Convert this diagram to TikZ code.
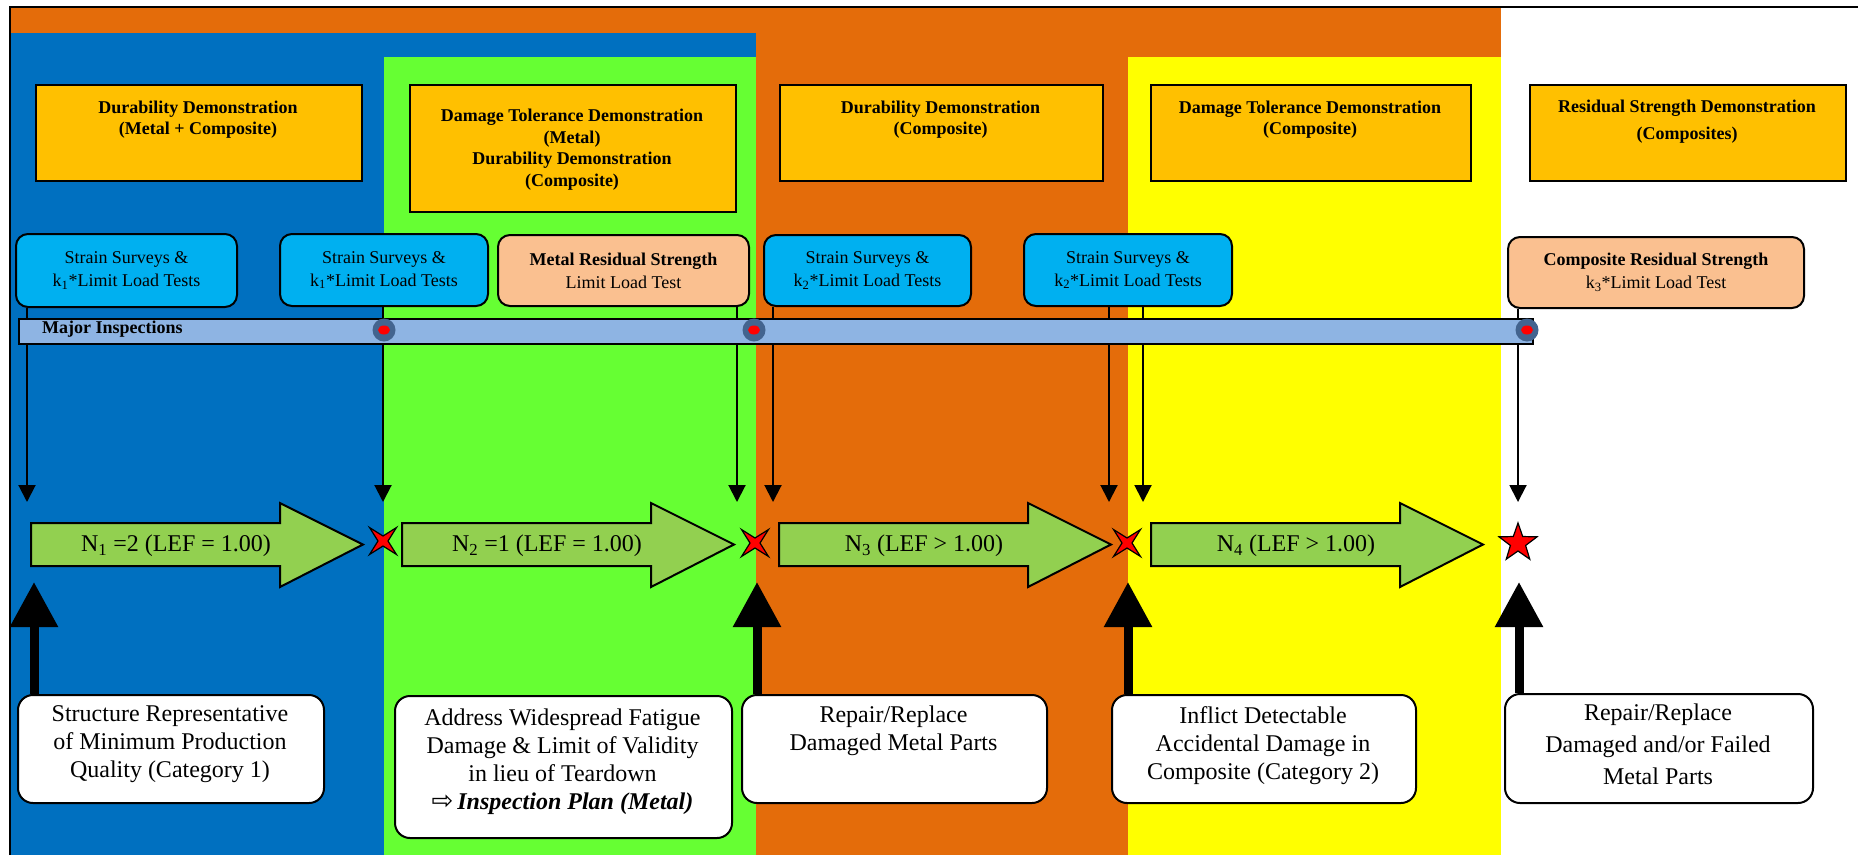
\documentclass[tikz,border=0pt]{standalone}
\usepackage{fontspec}
\setmainfont{Liberation Serif}
\newfontfamily\symfont{DejaVu Sans}
\usetikzlibrary{arrows.meta,shapes.geometric}
\definecolor{regorange}{HTML}{E46C0A}
\definecolor{regblue}{HTML}{0070C0}
\definecolor{reggreen}{HTML}{66FF33}
\definecolor{regyellow}{HTML}{FFFF00}
\definecolor{gold}{HTML}{FFC000}
\definecolor{cyanbox}{HTML}{00B0F0}
\definecolor{peach}{HTML}{FAC090}
\definecolor{barblue}{HTML}{8EB4E3}
\definecolor{dotring}{HTML}{43648F}
\definecolor{arrowgreen}{HTML}{92D050}
\begin{document}
\begin{tikzpicture}[x=1pt,y=-1pt,
  topbox/.style={draw=black, line width=2pt, fill=gold, anchor=north west, inner sep=0pt},
  toptext/.style={anchor=north, align=center, inner sep=0pt, font=\bfseries\fontsize{18}{20.5}\selectfont},
  sbox/.style={draw=black, line width=2pt, rounded corners=12pt, anchor=north west, inner sep=0pt, align=center, font=\fontsize{18}{23}\selectfont},
  bluebox/.style={sbox, fill=cyanbox},
  peachbox/.style={sbox, fill=peach},
  barstyle/.style={draw=black, line width=2pt, fill=barblue, anchor=north west, inner sep=0pt},
  ring/.style={circle, fill=dotring, minimum size=23pt, inner sep=0pt},
  reddot/.style={ellipse, fill=red, minimum width=12pt, minimum height=9pt, inner sep=0pt},
  thinarrow/.style={line width=2pt, -{Triangle[length=17pt,width=17pt]}},
  blockarrow/.style={fill=arrowgreen, draw=black, line width=2pt, line join=miter},
  ntext/.style={anchor=base, inner sep=0pt, font=\fontsize{24}{28}\selectfont},
  starfour/.style={star, star points=4, star point ratio=3.8, minimum size=38pt, inner sep=0pt, fill=red, draw=black, line width=1.2pt, rotate=45},
  starfive/.style={star, star points=5, star point ratio=2.5, minimum size=40pt, inner sep=0pt, fill=red, draw=black, line width=1.2pt},
  bigup/.style={line width=9pt, -{Triangle[length=45pt,width=46pt]}},
  bbox/.style={draw=black, line width=2pt, fill=white, rounded corners=15pt, anchor=north west, inner sep=0pt},
  btext/.style={anchor=north, align=center, inner sep=0pt, font=\fontsize{24}{28}\selectfont}
]
\useasboundingbox (0,0) rectangle (1858,855);
% background regions
\fill[white] (0,0) rectangle (1858,855);
\fill[regorange] (10,7) rectangle (1501,855);
\fill[regblue] (10,33) rectangle (756,855);
\fill[reggreen] (384,57) rectangle (756,855);
\fill[regyellow] (1128,57) rectangle (1501,855);
\draw[line width=2pt] (10,855) -- (10,7) -- (1858,7);

% top boxes
\node[topbox, minimum width=326pt, minimum height=96pt] (t1) at (35,84) {};
\node[topbox, minimum width=326pt, minimum height=127pt] (t2) at (409,84) {};
\node[topbox, minimum width=323pt, minimum height=96pt] (t3) at (779,84) {};
\node[topbox, minimum width=320pt, minimum height=96pt] (t4) at (1150,84) {};
\node[topbox, minimum width=316pt, minimum height=96pt] (t5) at (1529,84) {};
\node[toptext] (tt1) at (198,101) {Durability Demonstration\\(Metal + Composite)};
\node[toptext, font=\bfseries\fontsize{18}{21.5}\selectfont] (tt2) at (572,109) {Damage Tolerance Demonstration\\(Metal)\\Durability Demonstration\\(Composite)};
\node[toptext] (tt3) at (940.5,101) {Durability Demonstration\\(Composite)};
\node[toptext] (tt4) at (1310,101) {Damage Tolerance Demonstration\\(Composite)};
\node[toptext, font=\bfseries\fontsize{18}{27}\selectfont] (tt5) at (1687,100) {Residual Strength Demonstration\\(Composites)};

% test boxes
\node[bluebox, minimum width=221pt, minimum height=73pt] (s1) at (15,233) {Strain Surveys \&\\k\textsubscript{1}*Limit Load Tests};
\node[bluebox, minimum width=208pt, minimum height=72pt] (s2) at (279,233) {Strain Surveys \&\\k\textsubscript{1}*Limit Load Tests};
\node[peachbox, minimum width=251pt, minimum height=71pt] (p1) at (497,234) {\textbf{Metal Residual Strength}\\Limit Load Test};
\node[bluebox, minimum width=207pt, minimum height=71pt] (s3) at (763,234) {Strain Surveys \&\\k\textsubscript{2}*Limit Load Tests};
\node[bluebox, minimum width=208pt, minimum height=72pt] (s4) at (1023,233) {Strain Surveys \&\\k\textsubscript{2}*Limit Load Tests};
\node[peachbox, minimum width=296pt, minimum height=71pt] (p2) at (1507,236) {\textbf{Composite Residual Strength}\\k\textsubscript{3}*Limit Load Test};

% thin arrows
\coordinate (d1) at (27,502);
\coordinate (d2) at (383,502);
\coordinate (d3) at (737,502);
\coordinate (d4) at (773,502);
\coordinate (d5) at (1109,502);
\coordinate (d6) at (1143,502);
\coordinate (d7) at (1518,502);
\draw[thinarrow] (s1.south -| d1) -- (d1);
\draw[thinarrow] (s2.south -| d2) -- (d2);
\draw[thinarrow] (p1.south -| d3) -- (d3);
\draw[thinarrow] (s3.south -| d4) -- (d4);
\draw[thinarrow] (s4.south -| d5) -- (d5);
\draw[thinarrow] (s4.south -| d6) -- (d6);
\draw[thinarrow] (p2.south -| d7) -- (d7);

% major inspections bar
\node[barstyle, minimum width=1514pt, minimum height=25pt] (bar) at (18,318) {};
\node[anchor=base west, inner sep=0pt, font=\bfseries\fontsize{18}{20}\selectfont] (mi) at (42,333.3) {Major Inspections};
\node[ring] (r1) at (384,330) {};
\node[ring] (r2) at (754,330) {};
\node[ring] (r3) at (1527,330) {};
\node[reddot] (rd1) at (r1) {};
\node[reddot] (rd2) at (r2) {};
\node[reddot] (rd3) at (r3) {};

% block arrows
\foreach \x/\lab [count=\i] in {31/{N\textsubscript{1} =2 (LEF = 1.00)}, 402/{N\textsubscript{2} =1 (LEF = 1.00)}, 779/{N\textsubscript{3} (LEF > 1.00)}, 1151/{N\textsubscript{4} (LEF > 1.00)}} {
  \filldraw[blockarrow] (\x,523) -- (\x+249,523) -- (\x+249,503) -- (\x+332,544.5) -- (\x+249,587) -- (\x+249,566) -- (\x,566) -- cycle;
  \node[ntext] (n\i) at (\x+145,551.5) {\lab};
}

% stars
\node[starfour] (st1) at (383,541) {};
\node[starfour] (st2) at (755,543) {};
\node[starfour] (st3) at (1127,543) {};
\node[starfive] (st4) at (1518,543) {};

% bottom boxes
\node[bbox, minimum width=306pt, minimum height=108pt] (bA) at (17,694) {};
\node[bbox, minimum width=337pt, minimum height=142pt] (bB) at (394,695) {};
\node[bbox, minimum width=305pt, minimum height=108pt] (bC) at (741,694) {};
\node[bbox, minimum width=304pt, minimum height=108pt] (bD) at (1111,694) {};
\node[bbox, minimum width=308pt, minimum height=109pt] (bE) at (1504,693) {};
\node[btext] (xA) at (170,705.5) {Structure Representative\\of Minimum Production\\Quality (Category 1)};
\node[btext] (xB) at (562.5,708.5) {Address Widespread Fatigue\\Damage \& Limit of Validity\\in lieu of Teardown\\{\symfont\fontsize{26}{26}\selectfont ⇨}\,\textbf{\textit{Inspection Plan (Metal)}}};
\node[btext] (xC) at (893.5,705.5) {Repair/Replace\\Damaged Metal Parts};
\node[btext] (xD) at (1263,706) {Inflict Detectable\\Accidental Damage in\\Composite (Category 2)};
\node[btext, font=\fontsize{24}{32}\selectfont] (xE) at (1658,704) {Repair/Replace\\Damaged and/or Failed\\Metal Parts};

% big up arrows
\coordinate (u1) at (34,582);
\coordinate (u2) at (757,582);
\coordinate (u3) at (1128,582);
\coordinate (u4) at (1519,582);
\draw[bigup] (bA.north -| u1) -- (u1);
\draw[bigup] (bC.north -| u2) -- (u2);
\draw[bigup] (bD.north -| u3) -- (u3);
\draw[bigup] (bE.north -| u4) -- (u4);
\end{tikzpicture}
\end{document}
